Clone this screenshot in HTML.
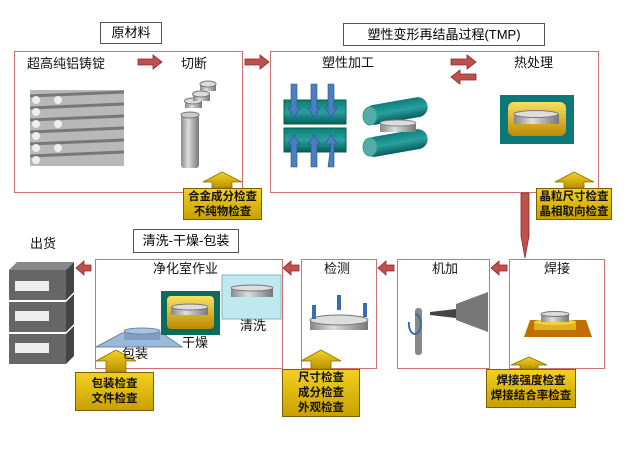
<!DOCTYPE html>
<html><head><meta charset="utf-8"><style>
body{margin:0;width:626px;height:458px;background:#fff;position:relative;overflow:hidden;font-family:"Liberation Sans","Noto Sans CJK SC",sans-serif;}
.t{position:absolute;font-size:13px;color:#111;white-space:nowrap;line-height:1;}
.lb{position:absolute;border:1px solid #555;background:#fff;font-size:13px;text-align:center;box-sizing:border-box;}
.rb{position:absolute;border:1.5px solid #d07070;box-sizing:border-box;}
.ins{position:absolute;background:linear-gradient(#f2d020,#c9a000);border:1px solid #7a6000;font-size:11.5px;font-weight:bold;text-align:center;line-height:15px;box-sizing:border-box;padding-top:1px;color:#111;}
svg{position:absolute;left:0;top:0}
</style></head><body>
<div class="rb" style="left:14px;top:51px;width:229px;height:142px"></div>
<div class="rb" style="left:270px;top:51px;width:329px;height:142px"></div>
<div class="rb" style="left:95px;top:259px;width:188px;height:110px"></div>
<div class="rb" style="left:301px;top:259px;width:76px;height:110px"></div>
<div class="rb" style="left:397px;top:259px;width:93px;height:110px"></div>
<div class="rb" style="left:509px;top:259px;width:96px;height:110px"></div>
<svg width="626" height="458">
<defs>
<linearGradient id="cyl" x1="0" x2="1"><stop offset="0" stop-color="#888"/><stop offset=".4" stop-color="#ddd"/><stop offset="1" stop-color="#777"/></linearGradient>
<linearGradient id="teal" x1="0" y1="0" x2="0" y2="1"><stop offset="0" stop-color="#0e7c7c"/><stop offset=".5" stop-color="#2aa0a0"/><stop offset="1" stop-color="#0a5c5c"/></linearGradient>
<linearGradient id="gold" x1="0" y1="0" x2="0" y2="1"><stop offset="0" stop-color="#f6e060"/><stop offset="1" stop-color="#c08800"/></linearGradient>
<linearGradient id="up" x1="0" y1="0" x2="0" y2="1"><stop offset="0" stop-color="#f5d420"/><stop offset="1" stop-color="#b89000"/></linearGradient>
</defs>
<g fill="#c0504d" stroke="#8a2a28" stroke-width=".8">
<polygon points="138,59 153,59 153,55 162,62 153,69 153,65 138,65"/>
<polygon points="245,59 260,59 260,55 269,62 260,69 260,65 245,65"/>
<polygon points="451,59 467,59 467,55 476,62 467,69 467,65 451,65"/>
<polygon points="476,74 460,74 460,70 451,77 460,84 460,80 476,80"/>
<polygon points="91,265 84,265 84,261 76,268 84,275 84,271 91,271"/>
<polygon points="299,265 291,265 291,261 283,268 291,275 291,271 299,271"/>
<polygon points="394,265 386,265 386,261 378,268 386,275 386,271 394,271"/>
<polygon points="507,265 499,265 499,261 491,268 499,275 499,271 507,271"/>
<polygon points="521,193 529,193 529,236 525,258 521,236"/>
</g>
<g fill="url(#up)" stroke="#8a7000" stroke-width=".8">
<polygon points="222,172 242,182 232,182 232,188 212,188 212,182 203,182"/>
<polygon points="574,172 594,182 584,182 584,188 564,188 564,182 555,182"/>
<polygon points="116,350 136,361 126,361 126,372 106,372 106,361 96,361"/>
<polygon points="321,350 341,361 331,361 331,369 311,369 311,361 301,361"/>
<polygon points="529,357 547,365 538,365 538,369 520,369 520,365 511,365"/>
</g>
<!-- ingots -->
<g>
<rect x="30" y="90" width="94" height="76" fill="#b8b8b8"/>
<g stroke="#777" stroke-width="3">
<line x1="30" y1="96" x2="124" y2="92"/><line x1="30" y1="108" x2="124" y2="104"/><line x1="30" y1="120" x2="124" y2="116"/><line x1="30" y1="132" x2="124" y2="128"/><line x1="30" y1="144" x2="124" y2="140"/><line x1="30" y1="156" x2="124" y2="152"/></g>
<g fill="#eee"><circle cx="36" cy="100" r="4"/><circle cx="36" cy="112" r="4"/><circle cx="36" cy="124" r="4"/><circle cx="36" cy="136" r="4"/><circle cx="36" cy="148" r="4"/><circle cx="36" cy="160" r="4"/><circle cx="58" cy="100" r="4"/><circle cx="58" cy="124" r="4"/><circle cx="58" cy="148" r="4"/></g>
</g>
<!-- cut cylinder -->
<rect x="181" y="115" width="18" height="53" fill="url(#cyl)" rx="3"/>
<ellipse cx="190" cy="115" rx="9" ry="3" fill="#ccc" stroke="#777"/>
<rect x="185" y="101" width="17" height="7" fill="url(#cyl)"/><ellipse cx="193" cy="101" rx="8.5" ry="3" fill="#ddd" stroke="#777"/>
<rect x="193" y="94" width="17" height="7" fill="url(#cyl)"/><ellipse cx="201" cy="94" rx="8.5" ry="3" fill="#ddd" stroke="#777"/>
<rect x="200" y="84" width="16" height="7" fill="url(#cyl)"/><ellipse cx="208" cy="84" rx="8" ry="3" fill="#ddd" stroke="#777"/>
<!-- press -->
<rect x="284" y="100" width="62" height="24" fill="url(#teal)" stroke="#063"/>
<rect x="284" y="128" width="62" height="24" fill="url(#teal)" stroke="#063"/>
<g fill="#4a7fc0" stroke="#2a5090" stroke-width=".6">
<polygon points="291,84 297,84 297,108 300,108 294,117 288,108 291,108"/>
<polygon points="311,84 317,84 317,108 320,108 314,117 308,108 311,108"/>
<polygon points="328,84 334,84 334,108 337,108 331,117 325,108 328,108"/>
<polygon points="291,167 297,167 297,144 300,144 294,135 288,144 291,144"/>
<polygon points="311,167 317,167 317,144 320,144 314,135 308,144 311,144"/>
<polygon points="328,167 334,167 334,144 337,144 331,135 325,144 331,144"/>
</g>
<!-- rollers -->
<rect x="364" y="101" width="64" height="20" rx="10" fill="url(#teal)" transform="rotate(-10 396 111)"/>
<rect x="364" y="133" width="64" height="20" rx="10" fill="url(#teal)" transform="rotate(-10 396 143)"/>
<ellipse cx="370" cy="116" rx="7" ry="9" fill="#5aa" stroke="#2a7"/><ellipse cx="370" cy="147" rx="7" ry="9" fill="#5aa" stroke="#2a7"/>
<rect x="380" y="123" width="36" height="9" fill="url(#cyl)"/><ellipse cx="398" cy="123" rx="18" ry="3" fill="#ddd" stroke="#888"/>
<!-- heat treatment -->
<rect x="500" y="95" width="74" height="49" fill="#0c7878"/>
<rect x="508" y="102" width="58" height="34" rx="6" fill="url(#gold)"/>
<rect x="514" y="114" width="45" height="10" fill="url(#cyl)"/><ellipse cx="536" cy="114" rx="22" ry="3.5" fill="#ddd" stroke="#777"/>
<!-- servers -->
<g>
<polygon points="9,270 66,270 74,262 17,262" fill="#888"/>
<rect x="9" y="270" width="57" height="30" fill="#666"/><polygon points="66,270 74,262 74,292 66,300" fill="#444"/>
<rect x="15" y="281" width="34" height="10" fill="#eee"/>
<rect x="9" y="302" width="57" height="30" fill="#666"/><polygon points="66,302 74,294 74,324 66,332" fill="#444"/>
<rect x="15" y="311" width="34" height="10" fill="#eee"/>
<rect x="9" y="334" width="57" height="30" fill="#666"/><polygon points="66,334 74,326 74,356 66,364" fill="#444"/>
<rect x="15" y="343" width="34" height="10" fill="#eee"/>
</g>
<!-- clean room -->
<polygon points="96,347 182,347 162,333 122,333" fill="#9ab8d8" stroke="#6a88a8"/>
<rect x="124" y="331" width="36" height="9" fill="#7f9fc0"/><ellipse cx="142" cy="331" rx="18" ry="3" fill="#a8c4e0" stroke="#6a88a8"/>
<rect x="161" y="291" width="59" height="44" fill="#0c6c5c"/>
<rect x="167" y="296" width="47" height="33" rx="4" fill="url(#gold)"/>
<rect x="171" y="307" width="37" height="8" fill="url(#cyl)"/><ellipse cx="190" cy="307" rx="18" ry="3" fill="#ddd" stroke="#777"/>
<rect x="222" y="275" width="59" height="44" fill="#bfe8f0" stroke="#7bb"/>
<rect x="231" y="288" width="42" height="9" fill="url(#cyl)"/><ellipse cx="252" cy="288" rx="21" ry="3" fill="#ddd" stroke="#777"/>
<!-- inspection -->
<rect x="310" y="320" width="58" height="10" fill="url(#cyl)"/><ellipse cx="339" cy="320" rx="29" ry="5" fill="#ddd" stroke="#777"/>
<g fill="#3a6ab0"><rect x="312" y="305" width="4" height="14"/><rect x="337" y="295" width="4" height="15"/><rect x="363" y="303" width="4" height="14"/></g>
<!-- machining -->
<rect x="415" y="308" width="7" height="47" rx="3" fill="#888"/>
<polygon points="456,304 488,292 488,332 456,320" fill="#777"/>
<polygon points="430,312 456,309 456,318 430,315" fill="#444"/>
<path d="M409,322 a6,10 0 1,0 6,-8" fill="none" stroke="#3a6ab0" stroke-width="2"/>
<!-- welding -->
<polygon points="524,337 592,337 586,320 530,320" fill="#c07000"/>
<rect x="534" y="322" width="42" height="8" fill="#e0b020"/><ellipse cx="555" cy="322" rx="21" ry="3" fill="#f0d040"/>
<rect x="541" y="314" width="28" height="8" fill="url(#cyl)"/><ellipse cx="555" cy="314" rx="14" ry="2.5" fill="#ddd" stroke="#777"/>
</svg>
<div class="lb" style="left:100px;top:22px;width:62px;height:22px;line-height:20px">原材料</div>
<div class="lb" style="left:343px;top:23px;width:202px;height:23px;line-height:21px">塑性变形再结晶过程(TMP)</div>
<div class="lb" style="left:133px;top:229px;width:106px;height:24px;line-height:22px">清洗-干燥-包装</div>
<div class="t" style="left:27px;top:57px">超高纯铝铸锭</div>
<div class="t" style="left:181px;top:57px">切断</div>
<div class="t" style="left:322px;top:56px">塑性加工</div>
<div class="t" style="left:514px;top:56px">热处理</div>
<div class="t" style="left:30px;top:237px">出货</div>
<div class="t" style="left:153px;top:262px">净化室作业</div>
<div class="t" style="left:324px;top:262px">检测</div>
<div class="t" style="left:432px;top:262px">机加</div>
<div class="t" style="left:544px;top:262px">焊接</div>
<div class="t" style="left:240px;top:319px">清洗</div>
<div class="t" style="left:182px;top:336px">干燥</div>
<div class="t" style="left:122px;top:347px">包装</div>
<div class="ins" style="left:183px;top:188px;width:79px;height:32px">合金成分检查<br>不纯物检查</div>
<div class="ins" style="left:536px;top:188px;width:76px;height:32px">晶粒尺寸检查<br>晶相取向检查</div>
<div class="ins" style="left:75px;top:372px;width:79px;height:39px;padding-top:4px">包装检查<br>文件检查</div>
<div class="ins" style="left:282px;top:369px;width:78px;height:48px;padding-top:1px">尺寸检查<br>成分检查<br>外观检查</div>
<div class="ins" style="left:486px;top:369px;width:90px;height:39px;padding-top:4px">焊接强度检查<br>焊接结合率检查</div>
</body></html>
